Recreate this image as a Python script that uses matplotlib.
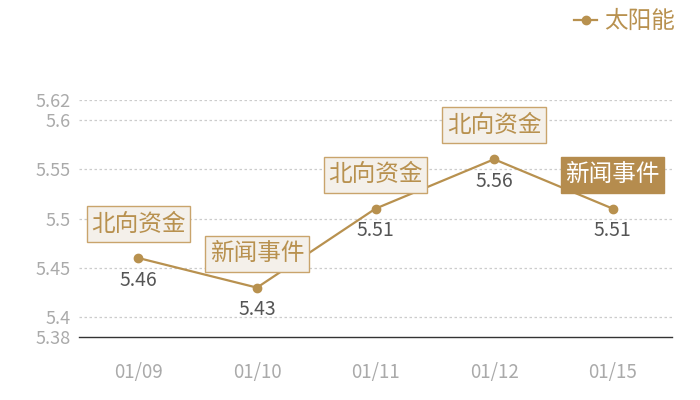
import matplotlib
matplotlib.use("Agg")
import matplotlib.pyplot as plt
from matplotlib.path import Path

plt.rcParams['font.family'] = ['Noto Sans CJK SC', 'DejaVu Sans']

dates = ["01/09", "01/10", "01/11", "01/12", "01/15"]
values = [5.46, 5.43, 5.51, 5.56, 5.51]
events = ["北向资金", "新闻事件", "北向资金", "北向资金", "新闻事件"]
highlight = [False, False, False, False, True]
series_name = "太阳能"
yticks = [5.38, 5.4, 5.45, 5.5, 5.55, 5.6, 5.62]
ytick_labels = ["5.38", "5.4", "5.45", "5.5", "5.55", "5.6", "5.62"]

gold = "#b8914f"
dark_fill = "#b58c4e"
light_fill = "#f4f0ea"
light_edge = "#c9a46c"


def label_box(x0, y0, width, height, mutation_size):
    px = 0.19 * mutation_size
    py = 0.28 * mutation_size
    x0, y0 = x0 - px, y0 - py
    x1, y1 = x0 + width + 2 * px, y0 + height + 2 * py
    return Path([(x0, y0), (x1, y0), (x1, y1), (x0, y1), (x0, y0)], closed=True)


fig = plt.figure(figsize=(7, 4), dpi=100)
ax = fig.add_axes([0.113, 0.1575, 0.847, 0.5925])

x = list(range(len(dates)))
ax.plot(x, values, color=gold, lw=1.6, marker='o', ms=6, label=series_name, zorder=3)

ax.set_xlim(-0.5, len(dates) - 0.5)
ax.set_ylim(5.38, 5.62)
ax.set_yticks(yticks)
ax.set_yticklabels(ytick_labels)
ax.set_xticks(x)
ax.set_xticklabels(dates)
ax.tick_params(axis='y', length=0, labelsize=13, colors='#aaaaaa', pad=6)
ax.tick_params(axis='x', length=0, labelsize=13.5, colors='#aaaaaa', pad=18)
for t in yticks[1:]:
    ax.axhline(t, color='#cccccc', lw=0.9, ls=(0, (2, 2)), zorder=1)
for s in ['top', 'right', 'left']:
    ax.spines[s].set_visible(False)
ax.spines['bottom'].set_color('#333333')
ax.spines['bottom'].set_linewidth(1.0)

for xi, v, ev, hl in zip(x, values, events, highlight):
    ax.annotate(f"{v:.2f}", (xi, v), xytext=(0, -22), textcoords='offset pixels',
                ha='center', va='center', fontsize=14, color='#555555', zorder=4)
    if hl:
        bbox = dict(boxstyle=label_box, fc=dark_fill, ec=dark_fill, lw=1)
        tc = 'white'
    else:
        bbox = dict(boxstyle=label_box, fc=light_fill, ec=light_edge, lw=1)
        tc = gold
    ax.annotate(ev, (xi, v), xytext=(0, 34), textcoords='offset pixels',
                ha='center', va='center', fontsize=17, color=tc, bbox=bbox, zorder=5)

leg = fig.legend(loc='upper right', bbox_to_anchor=(0.985, 1.01), frameon=False,
                 fontsize=17, handlelength=1.0, handletextpad=0.3, borderaxespad=0.2)
for t in leg.get_texts():
    t.set_color(gold)

fig.savefig("out.png", dpi=100)
